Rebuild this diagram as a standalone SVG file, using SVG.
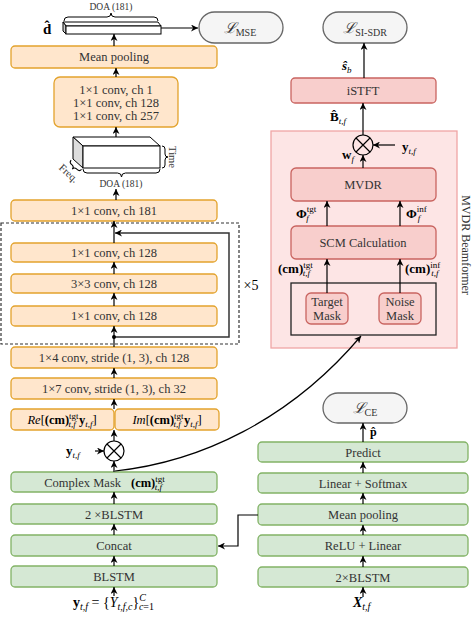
<svg xmlns="http://www.w3.org/2000/svg" width="476" height="618" viewBox="0 0 476 618">
<defs>
<marker id="ah" viewBox="0 0 10 10" refX="10" refY="5" markerWidth="7" markerHeight="7" markerUnits="userSpaceOnUse" orient="auto"><path d="M0,0 L10,5 L0,10 L3,5 z" fill="#000"/></marker>
<style>
.t{font-family:"Liberation Serif","DejaVu Serif",serif;font-size:12.5px;fill:#333;text-anchor:middle}
.m{font-family:"Liberation Serif","DejaVu Serif",serif;font-size:13px;fill:#000}
.s{font-size:9px}
.b{font-weight:bold}
.i{font-style:italic}
.o{fill:#ffe6cc;stroke:#e3a32d;stroke-width:1.3}
.g{fill:#d5e8d4;stroke:#82b366;stroke-width:1.3}
.p{fill:#f8cecc;stroke:#c96460;stroke-width:1.3}
.pill{fill:#f5f5f5;stroke:#666;stroke-width:1.3}
.br{fill:none;stroke:#000;stroke-width:1}
.sm{font-family:"Liberation Serif","DejaVu Serif",serif;font-size:9.5px;fill:#333;text-anchor:middle}
</style>
</defs>

<!-- MVDR region -->
<g id="mvdr-region">
<rect x="271" y="131" width="186" height="217" fill="#fde5e5" stroke="#f0a5a5" stroke-width="1.3"/>
<text class="t" style="font-size:12px" transform="rotate(90 466 245)" x="466" y="249">MVDR Beamformer</text>
</g>

<!-- Loss pills -->
<g id="loss-mse"><rect class="pill" x="199" y="12" width="84" height="31" rx="15.5"/>
<text class="m" x="240" y="33" text-anchor="middle" style="fill:#333"><tspan class="i" style="font-size:15px">ℒ</tspan><tspan style="font-size:10px" dy="3">MSE</tspan></text></g>
<g id="loss-sisdr"><rect class="pill" x="323" y="12" width="84" height="31" rx="15.5"/>
<text class="m" x="365" y="33" text-anchor="middle" style="fill:#333"><tspan class="i" style="font-size:15px">ℒ</tspan><tspan style="font-size:10px" dy="3">SI-SDR</tspan></text></g>
<g id="loss-ce"><rect class="pill" x="323" y="393" width="84" height="30" rx="15"/>
<text class="m" x="365" y="413" text-anchor="middle" style="fill:#333"><tspan class="i" style="font-size:15px">ℒ</tspan><tspan style="font-size:10px" dy="3">CE</tspan></text></g>

<!-- DOA output bar -->
<g id="doa-bar">
<polygon points="63,22 158,22 161,26 66,26" fill="#fff" stroke="#000" stroke-width="1"/>
<polygon points="63,22 66,26 66,34 63,31" fill="#ccc" stroke="#000" stroke-width="1"/>
<rect x="66" y="26" width="95" height="8" fill="#fff" stroke="#000" stroke-width="1"/>
<path class="br" d="M64,21 Q64,17 68,17 L107,17 Q111,17 111,13 Q111,17 115,17 L154,17 Q158,17 158,21"/>
<text class="sm" x="111" y="10">DOA (181)</text>
<text class="m b" x="43" y="34" style="font-size:15px">d̂</text>
</g>

<!-- left orange column -->
<g id="mean-pool-l"><rect class="o" x="11" y="46" width="206" height="22" rx="4"/><text class="t" x="114" y="61">Mean pooling</text></g>
<g id="conv-stack"><rect class="o" x="54" y="77" width="124" height="50" rx="6"/>
<text class="t" x="116" y="94">1×1 conv, ch 1</text>
<text class="t" x="116" y="107">1×1 conv, ch 128</text>
<text class="t" x="116" y="120">1×1 conv, ch 257</text></g>

<g id="feature-block">
<polygon points="73,137 150,137 160,146 83,146" fill="#fff" stroke="#000" stroke-width="1"/>
<polygon points="73,137 83,146 83,168 73,159" fill="#ddd" stroke="#000" stroke-width="1"/>
<rect x="83" y="146" width="77" height="22" fill="#fff" stroke="#000" stroke-width="1"/>
<path class="br" d="M162,146 Q165,146 165,149 L165,154 Q165,157 168,157 Q165,157 165,160 L165,165 Q165,168 162,168"/>
<text class="sm" style="font-size:10.5px" transform="rotate(90 172 157)" x="172" y="160">Time</text>
<path class="br" d="M83,169 Q83,173 87,173 L117.5,173 Q121.5,173 121.5,177 Q121.5,173 125.5,173 L156,173 Q160,173 160,169"/>
<text class="sm" x="121" y="187">DOA (181)</text>
<g transform="translate(77,164) rotate(42)">
<path class="br" d="M-7,1 Q-7,4 -4,4 L-3,4 Q0,4 0,7 Q0,4 3,4 L4,4 Q7,4 7,1"/>
<text class="sm" style="font-size:10.5px" x="0" y="16">Freq.</text>
</g>
</g>

<g id="conv181"><rect class="o" x="11" y="200" width="206" height="21" rx="4"/><text class="t" x="114" y="215">1×1 conv, ch 181</text></g>
<g id="res-block">
<rect x="1" y="223" width="238" height="121" fill="none" stroke="#333" stroke-width="1.2" stroke-dasharray="3,2"/>
<text class="t" style="font-size:14px;fill:#000" x="251" y="290">×5</text>
</g>
<g id="res-conv1"><rect class="o" x="11" y="243" width="206" height="19" rx="4"/><text class="t" x="114" y="257">1×1 conv, ch 128</text></g>
<g id="res-conv3"><rect class="o" x="11" y="274" width="206" height="19" rx="4"/><text class="t" x="114" y="288">3×3 conv, ch 128</text></g>
<g id="res-conv1b"><rect class="o" x="11" y="306" width="206" height="20" rx="4"/><text class="t" x="114" y="320">1×1 conv, ch 128</text></g>
<g id="conv14"><rect class="o" x="11" y="347" width="206" height="21" rx="4"/><text class="t" x="114" y="362">1×4 conv, stride (1, 3), ch 128</text></g>
<g id="conv17"><rect class="o" x="11" y="378" width="206" height="21" rx="4"/><text class="t" x="114" y="393">1×7 conv, stride (1, 3), ch 32</text></g>
<g id="re-part"><rect class="o" x="11" y="409" width="103" height="21" rx="4"/>
<text class="m" x="62" y="424" text-anchor="middle" style="font-size:12.5px"><tspan class="i">Re</tspan>[<tspan class="b">(cm)</tspan><tspan class="s" dy="-5">tgt</tspan><tspan class="s i" dx="-10" dy="8">t,f</tspan><tspan class="b" dx="3" dy="-3">y</tspan><tspan class="s i" dy="3">t,f</tspan><tspan dy="-3">]</tspan></text></g>
<g id="im-part"><rect class="o" x="115" y="409" width="104" height="21" rx="4"/>
<text class="m" x="167" y="424" text-anchor="middle" style="font-size:12.5px"><tspan class="i">Im</tspan>[<tspan class="b">(cm)</tspan><tspan class="s" dy="-5">tgt</tspan><tspan class="s i" dx="-10" dy="8">t,f</tspan><tspan class="b" dx="3" dy="-3">y</tspan><tspan class="s i" dy="3">t,f</tspan><tspan dy="-3">]</tspan></text></g>

<g id="mult-left"><circle cx="114" cy="451" r="10" fill="#fff" stroke="#000" stroke-width="1.2"/>
<path d="M107,444 L121,458 M121,444 L107,458" stroke="#000" stroke-width="1.2"/>
<text class="m" x="66" y="455"><tspan class="b">y</tspan><tspan class="s i" dy="3">t,f</tspan></text></g>

<!-- left green column -->
<g id="complex-mask"><rect class="g" x="11" y="472" width="206" height="20" rx="4"/>
<text class="t" x="121" y="487" style="text-anchor:end">Complex Mask</text>
<text class="m" x="131" y="487" style="font-size:12.5px"><tspan class="b">(cm)</tspan><tspan class="s" dy="-5">tgt</tspan><tspan class="s i" dx="-10" dy="8">t,f</tspan></text></g>
<g id="blstm2-l"><rect class="g" x="11" y="504" width="206" height="20" rx="4"/><text class="t" x="114" y="519">2 ×BLSTM</text></g>
<g id="concat"><rect class="g" x="11" y="535" width="206" height="21" rx="4"/><text class="t" x="114" y="550">Concat</text></g>
<g id="blstm-l"><rect class="g" x="11" y="566" width="206" height="21" rx="4"/><text class="t" x="114" y="581">BLSTM</text></g>
<g id="input-y"><text class="m" x="73" y="607" style="font-size:14px"><tspan class="b">y</tspan><tspan class="s i" style="font-size:10px" dy="3">t,f</tspan><tspan dy="-3"> = {</tspan><tspan class="i">Y</tspan><tspan class="s i" style="font-size:10px" dy="3">t,f,c</tspan><tspan dy="-3">}</tspan><tspan class="s i" style="font-size:10px" dy="-6">C</tspan><tspan class="s i" style="font-size:10px" dx="-7" dy="9">c</tspan><tspan class="s" style="font-size:10px">=1</tspan></text></g>

<!-- right pink column -->
<g id="istft"><rect class="p" x="291" y="78" width="145" height="25" rx="4"/><text class="t" x="363" y="95">iSTFT</text></g>
<g id="mult-right"><circle cx="363" cy="145" r="10" fill="none" stroke="#000" stroke-width="1.2"/>
<path d="M356,138 L370,152 M370,138 L356,152" stroke="#000" stroke-width="1.2"/>
<text class="m" x="402" y="151"><tspan class="b">y</tspan><tspan class="s i" dy="3">t,f</tspan></text></g>
<g id="mvdr"><rect class="p" x="291" y="168" width="145" height="33" rx="5"/><text class="t" x="363" y="189">MVDR</text></g>
<g id="scm"><rect class="p" x="291" y="226" width="145" height="33" rx="5"/><text class="t" x="363" y="247">SCM Calculation</text></g>
<g id="mask-box"><rect x="291" y="283" width="145" height="52" fill="none" stroke="#222" stroke-width="1.3"/></g>
<g id="target-mask"><rect class="p" x="306" y="293" width="42" height="31" rx="5"/><text class="t" x="327" y="306">Target</text><text class="t" x="327" y="320">Mask</text></g>
<g id="noise-mask"><rect class="p" x="379" y="293" width="42" height="31" rx="5"/><text class="t" x="400" y="306">Noise</text><text class="t" x="400" y="320">Mask</text></g>

<!-- right green column -->
<g id="predict"><rect class="g" x="258" y="442" width="210" height="20" rx="4"/><text class="t" x="363" y="457">Predict</text></g>
<g id="linsoft"><rect class="g" x="258" y="473" width="210" height="20" rx="4"/><text class="t" x="363" y="488">Linear + Softmax</text></g>
<g id="mean-pool-r"><rect class="g" x="258" y="504" width="210" height="21" rx="4"/><text class="t" x="363" y="519">Mean pooling</text></g>
<g id="relu"><rect class="g" x="258" y="535" width="210" height="21" rx="4"/><text class="t" x="363" y="550">ReLU + Linear</text></g>
<g id="blstm2-r"><rect class="g" x="258" y="567" width="210" height="20" rx="4"/><text class="t" x="363" y="582">2×BLSTM</text></g>
<g id="input-x"><text class="m" x="353" y="607" style="font-size:14px"><tspan class="b i">X</tspan><tspan class="s i" style="font-size:10px" dy="3">t,f</tspan></text></g>

<!-- labels -->
<g id="labels">
<text class="m b i" x="342" y="70">ŝ<tspan class="s i" style="font-weight:normal" dy="3">b</tspan></text>
<text class="m b" x="330" y="121">B̂<tspan class="s i" style="font-weight:normal" dy="3">t,f</tspan></text>
<text class="m b" x="342" y="159">w<tspan class="s i" style="font-weight:normal" dy="3">f</tspan></text>
<text class="m b" x="296" y="218">Φ<tspan class="s" style="font-weight:normal" dy="-6">tgt</tspan><tspan class="s i" style="font-weight:normal" dx="-10" dy="9">f</tspan></text>
<text class="m b" x="406" y="218">Φ<tspan class="s" style="font-weight:normal" dy="-6">inf</tspan><tspan class="s i" style="font-weight:normal" dx="-9" dy="9">f</tspan></text>
<text class="m" x="278" y="273"><tspan class="b">(cm)</tspan><tspan class="s" dy="-5">tgt</tspan><tspan class="s i" dx="-10" dy="8">t,f</tspan></text>
<text class="m" x="405" y="273"><tspan class="b">(cm)</tspan><tspan class="s" dy="-5">inf</tspan><tspan class="s i" dx="-9" dy="8">t,f</tspan></text>
<text class="m b" x="370" y="436" style="font-size:12px">p̂</text>
</g>

<!-- connectors -->
<g id="connectors" fill="none" stroke="#000" stroke-width="1.2">
<line x1="114" y1="46" x2="114" y2="34" marker-end="url(#ah)"/>
<line x1="161" y1="28" x2="198" y2="28" marker-end="url(#ah)"/>
<line x1="116" y1="77" x2="116" y2="68" marker-end="url(#ah)"/>
<line x1="116" y1="137" x2="116" y2="127" marker-end="url(#ah)"/>
<line x1="116" y1="200" x2="116" y2="189" marker-end="url(#ah)"/>
<line x1="114" y1="243" x2="114" y2="221" marker-end="url(#ah)"/>
<line x1="114" y1="274" x2="114" y2="262" marker-end="url(#ah)"/>
<line x1="114" y1="306" x2="114" y2="293" marker-end="url(#ah)"/>
<line x1="114" y1="347" x2="114" y2="326" marker-end="url(#ah)"/>
<polyline points="114,337 229,337 229,233 115,233" stroke="#333" stroke-width="1.5" marker-end="url(#ah)"/>
<circle cx="114" cy="337" r="2" fill="#000" stroke="none"/>
<line x1="114" y1="378" x2="114" y2="368" marker-end="url(#ah)"/>
<line x1="114" y1="409" x2="114" y2="399" marker-end="url(#ah)"/>
<line x1="114" y1="441" x2="114" y2="430" marker-end="url(#ah)"/>
<line x1="95" y1="451" x2="104" y2="451" marker-end="url(#ah)"/>
<line x1="114" y1="472" x2="114" y2="461" marker-end="url(#ah)"/>
<line x1="114" y1="504" x2="114" y2="492" marker-end="url(#ah)"/>
<line x1="114" y1="535" x2="114" y2="524" marker-end="url(#ah)"/>
<line x1="114" y1="566" x2="114" y2="556" marker-end="url(#ah)"/>
<line x1="114" y1="596" x2="114" y2="587" marker-end="url(#ah)"/>
<path d="M115,471 C200,462 290,420 361,336" marker-end="url(#ah)"/>
<polyline points="258,515 238,515 238,546 218,546" marker-end="url(#ah)"/>
<line x1="363" y1="597" x2="363" y2="587" marker-end="url(#ah)"/>
<line x1="363" y1="567" x2="363" y2="556" marker-end="url(#ah)"/>
<line x1="363" y1="535" x2="363" y2="525" marker-end="url(#ah)"/>
<line x1="363" y1="504" x2="363" y2="493" marker-end="url(#ah)"/>
<line x1="363" y1="473" x2="363" y2="462" marker-end="url(#ah)"/>
<line x1="363" y1="442" x2="363" y2="423" marker-end="url(#ah)"/>
<line x1="364" y1="78" x2="364" y2="43" marker-end="url(#ah)"/>
<line x1="363" y1="135" x2="363" y2="103" marker-end="url(#ah)"/>
<line x1="363" y1="168" x2="363" y2="155" marker-end="url(#ah)"/>
<line x1="395" y1="145" x2="373" y2="145" marker-end="url(#ah)"/>
<line x1="327" y1="226" x2="327" y2="201" marker-end="url(#ah)"/>
<line x1="400" y1="226" x2="400" y2="201" marker-end="url(#ah)"/>
<line x1="327" y1="293" x2="327" y2="259" marker-end="url(#ah)"/>
<line x1="400" y1="293" x2="400" y2="259" marker-end="url(#ah)"/>
</g>
</svg>
